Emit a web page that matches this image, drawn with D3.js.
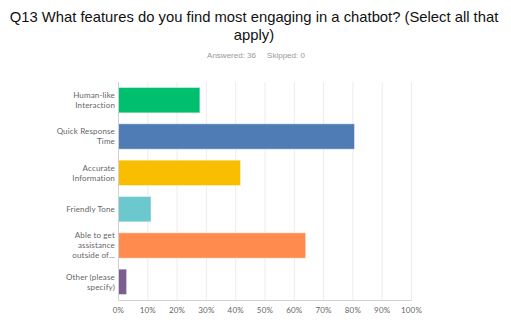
<!DOCTYPE html>
<html>
<head>
<meta charset="utf-8">
<script src="https://cdn.jsdelivr.net/npm/d3@7"></script>
<style>
  body { margin: 0; background: #fff; }
  svg { display: block; }
</style>
</head>
<body>
<svg width="511" height="330"></svg>
<script>
// answers to Q13, 36 respondents
const labels = [
  ["Human-like", "Interaction"],
  ["Quick Response", "Time"],
  ["Accurate", "Information"],
  ["Friendly Tone"],
  ["Able to get", "assistance", "outside of..."],
  ["Other (please", "specify)"]
];
const shares = [27.78, 80.56, 41.67, 11.11, 63.89, 2.78];
const colors = ["#00bf6f", "#507cb6", "#f9be00", "#6bc8cd", "#ff8b4f", "#7d5e90"];
const ticks = [0, 10, 20, 30, 40, 50, 60, 70, 80, 90, 100];

const svg = d3.select("svg");

// title
svg.append("text")
  .attr("x", 254).attr("y", 22)
  .attr("text-anchor", "middle")
  .style("font", "14.8px 'Liberation Sans', Arial, sans-serif")
  .attr("fill", "#111")
  .text("Q13 What features do you find most engaging in a chatbot? (Select all that");
svg.append("text")
  .attr("x", 254).attr("y", 40)
  .attr("text-anchor", "middle")
  .style("font", "14.8px 'Liberation Sans', Arial, sans-serif")
  .attr("fill", "#111")
  .text("apply)");
svg.append("text")
  .attr("x", 256).attr("y", 58)
  .attr("text-anchor", "middle")
  .style("font", "8px 'Liberation Sans', Arial, sans-serif")
  .attr("fill", "#999")
  .attr("xml:space", "preserve")
  .text("Answered: 36     Skipped: 0");

const x = d3.scaleLinear().domain([0, 100]).range([118.5, 411.5]);
const y = d3.scaleBand().domain(d3.range(labels.length)).range([82, 300]).paddingInner(0.3).paddingOuter(0.15);

// grid
svg.append("g")
  .selectAll("line")
  .data(ticks.slice(1))
  .join("line")
  .attr("x1", d => x(d)).attr("x2", d => x(d))
  .attr("y1", 82).attr("y2", 300)
  .attr("stroke", "#ececec").attr("stroke-width", 1);

// bars
svg.append("g")
  .selectAll("rect")
  .data(shares)
  .join("rect")
  .attr("x", x(0))
  .attr("y", (d, i) => y(i))
  .attr("width", d => x(d) - x(0))
  .attr("height", y.bandwidth())
  .attr("fill", (d, i) => colors[i])
  .attr("stroke", "#fff").attr("stroke-opacity", 0.5).attr("stroke-width", 1);

// axes lines
svg.append("line")
  .attr("x1", x(0)).attr("x2", x(0)).attr("y1", 82).attr("y2", 300)
  .attr("stroke", "#d0d0d0");
svg.append("line")
  .attr("x1", x(0)).attr("x2", x(100)).attr("y1", 300.5).attr("y2", 300.5)
  .attr("stroke", "#d0d0d0");

// category labels
const lab = svg.append("g")
  .style("font", "8px Lato, 'Open Sans', sans-serif")
  .style("letter-spacing", "0.15px")
  .attr("fill", "#666");
labels.forEach((lines, i) => {
  const cy = y(i) + y.bandwidth() / 2;
  const lh = 10;
  const t = lab.append("text").attr("text-anchor", "end");
  lines.forEach((s, k) => {
    t.append("tspan")
      .attr("x", 115)
      .attr("y", cy + (k - (lines.length - 1) / 2) * lh + 2.8)
      .text(s);
  });
});

// x tick labels
svg.append("g")
  .style("font", "8px Lato, 'Open Sans', sans-serif")
  .style("letter-spacing", "0.2px")
  .attr("fill", "#666")
  .selectAll("text")
  .data(ticks)
  .join("text")
  .attr("x", d => x(d))
  .attr("y", 313)
  .attr("text-anchor", "middle")
  .text(d => d + "%");
</script>
</body>
</html>
